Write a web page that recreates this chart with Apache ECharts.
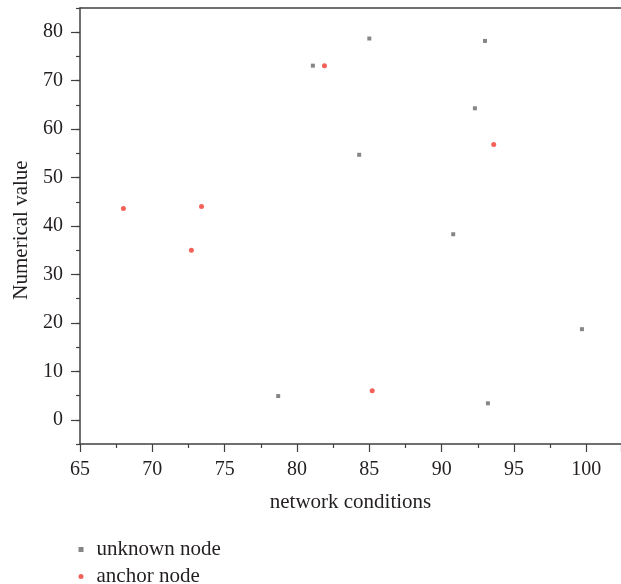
<!DOCTYPE html>
<html>
<head>
<meta charset="utf-8">
<script src="https://cdn.jsdelivr.net/npm/echarts@6/dist/echarts.min.js"></script>
<style>
  html, body { margin: 0; padding: 0; background: #fff; }
  #main { width: 621px; height: 584px; }
</style>
</head>
<body>
<div id="main"></div>
<script>
// values
var unknownX = [81.1, 85.0, 93.0, 92.3, 84.3, 90.8, 99.7, 93.2, 78.7];
var unknownY = [73.1, 78.7, 78.2, 64.3, 54.7, 38.3, 18.7, 3.4, 4.9];
var anchorX = [68.0, 73.4, 81.9, 93.6, 72.7, 85.2];
var anchorY = [43.6, 44.0, 73.1, 56.8, 35.0, 6.0];
var yMajor = [0, 10, 20, 30, 40, 50, 60, 70, 80];

var font = 'Liberation Serif';
var axisColor = '#404040';
var textColor = '#231f20';

var chart = echarts.init(document.getElementById('main'));

var option = {
  backgroundColor: '#fff',
  animation: false,
  grid: { left: 80, top: 8, right: 0, bottom: 140 },
  legend: {
    orient: 'vertical',
    left: 78.5,
    top: 539,
    height: 60,
    padding: 0,
    itemWidth: 5,
    itemHeight: 5,
    itemGap: 6,
    textStyle: { fontFamily: font, fontSize: 21, lineHeight: 20, color: textColor, padding: [0, 0, 0, 8] },
    data: [
      { name: 'unknown node', icon: 'rect' },
      { name: 'anchor node', icon: 'circle' }
    ]
  },
  xAxis: [{
    type: 'value',
    min: 65,
    max: 102.4,
    interval: 5,
    name: 'network conditions',
    nameLocation: 'middle',
    nameGap: 48,
    nameTextStyle: { fontFamily: font, fontSize: 21, color: textColor },
    axisLine: { show: true, onZero: false, lineStyle: { color: axisColor, width: 1.5 } },
    axisTick: { show: true, length: 8, lineStyle: { color: axisColor, width: 1.2 } },
    minorTick: { show: true, splitNumber: 2, length: 4, lineStyle: { color: axisColor, width: 1.2 } },
    axisLabel: {
      fontFamily: font, fontSize: 20, color: textColor, margin: 16,
      showMaxLabel: false
    },
    splitLine: { show: false }
  }, {
    type: 'value',
    position: 'top',
    min: 65,
    max: 102.4,
    axisLine: { show: true, onZero: false, lineStyle: { color: axisColor, width: 1.5 } },
    axisTick: { show: false },
    axisLabel: { show: false },
    splitLine: { show: false }
  }],
  yAxis: [{
    type: 'value',
    min: -5,
    max: 85,
    interval: 5,
    name: 'Numerical value',
    nameLocation: 'middle',
    nameGap: 46,
    nameTextStyle: { fontFamily: font, fontSize: 21, color: textColor, padding: [0, 8, 0, 0] },
    axisLine: { show: true, onZero: false, lineStyle: { color: axisColor, width: 1.5 } },
    axisTick: { show: true, length: 4, lineStyle: { color: axisColor, width: 1.2 } },
    axisLabel: {
      fontFamily: font, fontSize: 20, color: textColor, margin: 17,
      formatter: function (v) { return yMajor.indexOf(v) >= 0 ? String(v) : ''; }
    },
    splitLine: { show: false }
  }, {
    // longer ticks at the labelled values
    type: 'value',
    position: 'left',
    min: -5,
    max: 85,
    axisLine: { show: false },
    axisTick: { show: true, length: 9, customValues: yMajor, lineStyle: { color: axisColor, width: 1.2 } },
    axisLabel: { show: false },
    splitLine: { show: false }
  }],
  series: [{
    name: 'unknown node',
    type: 'scatter',
    symbol: 'rect',
    symbolSize: 4,
    itemStyle: { color: '#686868' },
    data: unknownX.map(function (x, i) { return [x, unknownY[i]]; })
  }, {
    name: 'anchor node',
    type: 'scatter',
    symbol: 'circle',
    symbolSize: 5,
    itemStyle: { color: '#f03a2e' },
    data: anchorX.map(function (x, i) { return [x, anchorY[i]]; })
  }]
};

chart.setOption(option);
</script>
</body>
</html>
